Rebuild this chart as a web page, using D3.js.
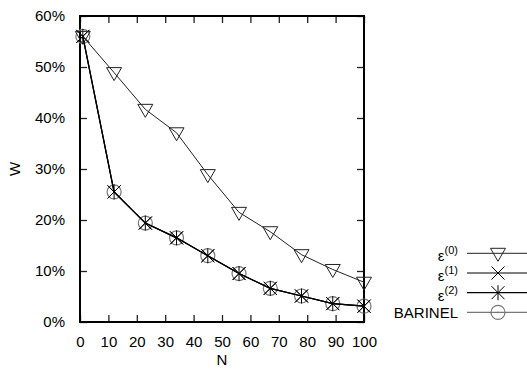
<!DOCTYPE html>
<html>
<head>
<meta charset="utf-8">
<script src="https://cdn.jsdelivr.net/npm/d3@7"></script>
<style>
	body { margin: 0; background: #fff; }
	text { font-family: "Liberation Sans", Arial, sans-serif; fill: #000; }
</style>
</head>
<body>
<div id="graph"></div>
<script>
// Values (W in percent)
const nValues = [1, 12, 23, 34, 45, 56, 67, 78, 89, 100];
const eps0 = [56.0, 48.9, 41.7, 37.1, 28.9, 21.5, 17.7, 13.2, 10.3, 7.8];
const eps1 = [56.0, 25.5, 19.4, 16.5, 13.0, 9.5, 6.6, 5.1, 3.6, 3.1];
const eps2 = [56.0, 25.5, 19.4, 16.5, 13.0, 9.5, 6.6, 5.1, 3.6, 3.1];
const barinel = [56.0, 25.5, 19.4, 16.5, 13.0, 9.5, 6.6, 5.1, 3.6, 3.1];
const xTicks = [0, 10, 20, 30, 40, 50, 60, 70, 80, 90, 100];
const yTicks = [0, 10, 20, 30, 40, 50, 60];
const seriesNames = ["(0)", "(1)", "(2)", "BARINEL"];

const createGraph = () => {
	let margin = {"top": 16, "right": 163, "bottom": 51, "left": 80};
	let width = 284;
	let height = 306;

	let svg = d3.select("#graph")
		.append("svg")
		.attr("width", 527)
		.attr("height", 373);

	let graph = svg.append("g")
		.attr("transform", "translate(" + margin.left + "," + margin.top + ")");

	let x = d3.scaleLinear().domain([0, 100]).range([0, width]);
	let y = d3.scaleLinear().domain([0, 60]).range([height, 0]);

	// Ticks point inward on all four sides, like gnuplot does
	const styleAxis = (g) => {
		g.select(".domain").remove();
		g.selectAll(".tick line").attr("stroke", "#222").attr("stroke-width", 1.3);
		g.selectAll("text").style("font-size", "15px").attr("fill", "#000");
	};

	graph.append("g")
		.attr("transform", "translate(0," + height + ")")
		.call(d3.axisBottom(x).tickValues(xTicks).tickSize(-7).tickPadding(14))
		.call(styleAxis);
	graph.append("g")
		.call(d3.axisTop(x).tickValues(xTicks).tickSize(-7).tickFormat(""))
		.call(styleAxis);
	graph.append("g")
		.call(d3.axisLeft(y).tickValues(yTicks).tickSize(-7).tickPadding(15).tickFormat((d) => d + "%"))
		.call(styleAxis);
	graph.append("g")
		.attr("transform", "translate(" + width + ",0)")
		.call(d3.axisRight(y).tickValues(yTicks).tickSize(-7).tickFormat(""))
		.call(styleAxis);

	// Border box
	graph.append("rect")
		.attr("width", width)
		.attr("height", height)
		.attr("fill", "none")
		.attr("stroke", "#000")
		.attr("stroke-width", 2);

	// Axis titles
	svg.append("text")
		.attr("x", margin.left + width / 2)
		.attr("y", 365)
		.attr("text-anchor", "middle")
		.style("font-size", "15px")
		.text("N");
	svg.append("text")
		.attr("transform", "translate(20," + (margin.top + height / 2) + ") rotate(-90)")
		.attr("text-anchor", "middle")
		.style("font-size", "15px")
		.text("W");

	// Point markers
	const drawMarker = (g, type, color) => {
		if (type == "triangle") {
			g.append("path").attr("d", "M-7.5,-5L7.5,-5L0,8Z")
				.attr("fill", "none").attr("stroke", color).attr("stroke-width", 1);
		} else if (type == "cross") {
			g.append("path").attr("d", "M-6.5,-6.5L6.5,6.5M-6.5,6.5L6.5,-6.5")
				.attr("stroke", color).attr("stroke-width", 1);
		} else if (type == "star") {
			g.append("path").attr("d", "M-6.5,-6.5L6.5,6.5M-6.5,6.5L6.5,-6.5M0,-7.5L0,7.5")
				.attr("stroke", color).attr("stroke-width", 1);
		} else {
			g.append("circle").attr("r", 7)
				.attr("fill", "none").attr("stroke", color).attr("stroke-width", 1.2);
			g.append("circle").attr("r", 0.8).attr("fill", color);
		}
	};

	let series = [
		{"name": seriesNames[0], "values": eps0, "marker": "triangle", "color": "#222", "width": 1},
		{"name": seriesNames[1], "values": eps1, "marker": "cross", "color": "#000", "width": 1.2},
		{"name": seriesNames[2], "values": eps2, "marker": "star", "color": "#000", "width": 1.2},
		{"name": seriesNames[3], "values": barinel, "marker": "circle", "color": "#777", "width": 1.2}
	];

	let line = d3.line()
		.x((d) => x(d[0]))
		.y((d) => y(d[1]));

	// Draw the barinel series first so the black ones sit on top
	series.slice().reverse().forEach((s) => {
		let pts = nValues.map((n, i) => [n, s.values[i]]);
		graph.append("path")
			.datum(pts)
			.attr("d", line)
			.attr("fill", "none")
			.attr("stroke", s.color)
			.attr("stroke-width", s.width);
		graph.selectAll(null)
			.data(pts)
			.enter()
			.append("g")
			.attr("transform", (d) => "translate(" + x(d[0]) + "," + y(d[1]) + ")")
			.each(function () { drawMarker(d3.select(this), s.marker, s.color); });
	});

	// Legend
	series.forEach((s, i) => {
		let ly = 253.3 + i * 19.7;
		svg.append("line")
			.attr("x1", 467).attr("x2", 527)
			.attr("y1", ly).attr("y2", ly)
			.attr("stroke", s.color)
			.attr("stroke-width", s.width);
		drawMarker(svg.append("g").attr("transform", "translate(498," + ly + ")"), s.marker, s.color);

		let label = svg.append("text")
			.attr("x", 458)
			.attr("text-anchor", "end")
			.style("font-size", "15px");
		if (s.name == "BARINEL") {
			label.attr("y", ly + 6).text(s.name);
		} else {
			label.attr("y", ly + 8);
			label.append("tspan").text("ε");
			label.append("tspan").attr("dy", -7).style("font-size", "11px").text(s.name);
		}
	});
};

createGraph();
</script>
</body>
</html>
